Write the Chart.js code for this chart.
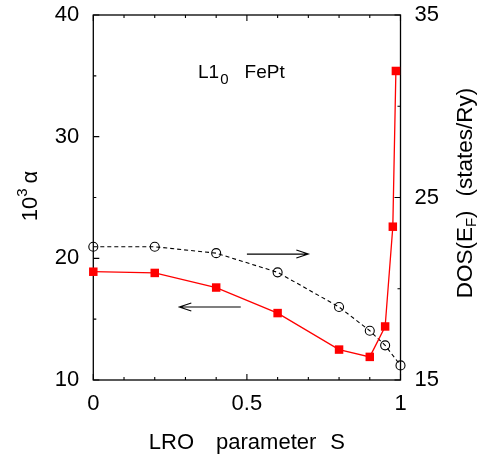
<!DOCTYPE html>
<html>
<head>
<meta charset="utf-8">
<script src="https://cdn.jsdelivr.net/npm/chart.js@4.4.1/dist/chart.umd.min.js"></script>
<style>
html,body{margin:0;padding:0;background:#fff;}
#wrap{width:478px;height:457px;}
</style>
</head>
<body>
<div id="wrap"><canvas id="c" width="478" height="457"></canvas></div>
<script>
// ---- data ----
const S_alpha = [0, 0.2, 0.4, 0.6, 0.8, 0.9, 0.95, 0.975, 0.985];
const alpha   = [18.9, 18.8, 17.6, 15.5, 12.5, 11.9, 14.4, 22.6, 35.4];
const S_dos   = [0, 0.2, 0.4, 0.6, 0.8, 0.9, 0.95, 1.0];
const dos     = [22.3, 22.3, 21.95, 20.9, 19.0, 17.7, 16.9, 15.8];

const xTickLabels   = [0, 0.5, 1];
const xMinorTicks   = [0.1, 0.2, 0.3, 0.4, 0.6, 0.7, 0.8, 0.9];
const yLeftTicks    = [10, 20, 30, 40];
const yLeftMinor    = [15, 25, 35];
const yRightTicks   = [15, 25, 35];
const yRightMinor   = [20, 30];

// arrows: [xStart, xEnd, yValue]
const arrowRight = [0.5, 0.7, 21.9];   // points to right axis (DOS)
const arrowLeft  = [0.48, 0.28, 16.0]; // points to left axis (alpha)
const insetPos   = [0.341, 34.8];      // "L1_0 FePt" label position (x, alpha)

const FONT = '"Liberation Sans", Arial, Helvetica, sans-serif';

// draw a sequence of [text, fontSize, dy, gapAfter] pieces starting at x
function drawPieces(ctx, pieces, x, y) {
  pieces.forEach(([t, fs, dy, gap]) => {
    ctx.font = fs + 'px ' + FONT;
    ctx.fillText(t, x, y + dy);
    x += ctx.measureText(t).width + (gap || 0);
  });
}
function piecesWidth(ctx, pieces) {
  let w = 0;
  pieces.forEach(([t, fs, dy, gap], i) => {
    ctx.font = fs + 'px ' + FONT;
    w += ctx.measureText(t).width + (i < pieces.length - 1 ? (gap || 0) : 0);
  });
  return w;
}

const framePlugin = {
  id: 'frame',
  beforeDatasetsDraw(chart) {
    const {ctx, chartArea: a, scales} = chart;
    ctx.save();
    ctx.strokeStyle = '#000';
    ctx.lineWidth = 1.3;
    ctx.strokeRect(a.left, a.top, a.right - a.left, a.bottom - a.top);
    ctx.lineWidth = 1.1;
    const MAJ = 6, MIN = 3;
    ctx.beginPath();
    const xs = scales.x, yl = scales.y, yr = scales.y1;
    xTickLabels.concat(xMinorTicks).forEach(v => {
      const L = xTickLabels.includes(v) ? MAJ : MIN;
      const px = xs.getPixelForValue(v);
      ctx.moveTo(px, a.bottom); ctx.lineTo(px, a.bottom - L);
      ctx.moveTo(px, a.top); ctx.lineTo(px, a.top + L);
    });
    yLeftTicks.concat(yLeftMinor).forEach(v => {
      const L = yLeftTicks.includes(v) ? MAJ : MIN;
      const py = yl.getPixelForValue(v);
      ctx.moveTo(a.left, py); ctx.lineTo(a.left + L, py);
    });
    yRightTicks.concat(yRightMinor).forEach(v => {
      const L = yRightTicks.includes(v) ? MAJ : MIN;
      const py = yr.getPixelForValue(v);
      ctx.moveTo(a.right, py); ctx.lineTo(a.right - L, py);
    });
    ctx.stroke();
    ctx.restore();
  },
  afterDraw(chart) {
    const {ctx, chartArea: a, scales} = chart;
    const xs = scales.x, yl = scales.y, yr = scales.y1;
    ctx.save();
    ctx.fillStyle = '#000';
    ctx.strokeStyle = '#000';
    ctx.lineWidth = 1.1;

    // arrows
    function arrow(x0, x1, py) {
      const p0 = xs.getPixelForValue(x0), p1 = xs.getPixelForValue(x1);
      const dir = Math.sign(p1 - p0);
      ctx.beginPath();
      ctx.moveTo(p0, py); ctx.lineTo(p1, py);
      ctx.moveTo(p1 - dir * 12, py - 4); ctx.lineTo(p1, py); ctx.lineTo(p1 - dir * 12, py + 4);
      ctx.stroke();
    }
    arrow(arrowRight[0], arrowRight[1], yr.getPixelForValue(arrowRight[2]));
    arrow(arrowLeft[0], arrowLeft[1], yl.getPixelForValue(arrowLeft[2]));

    ctx.textBaseline = 'alphabetic';
    ctx.textAlign = 'left';

    // inset label L1_0 FePt
    drawPieces(ctx, [['L1', 19, 0, 1], ['0', 15, 6, 16], ['FePt', 19, 0, 0]],
      xs.getPixelForValue(insetPos[0]), yl.getPixelForValue(insetPos[1]));

    // x-axis title
    const xt = [['LRO', 22, 0, 22], ['parameter', 22, 0, 14], ['S', 22, 0, 0]];
    drawPieces(ctx, xt, (a.left + a.right) / 2 - piecesWidth(ctx, xt) / 2, 449);

    // left title: 10^3 alpha (rotated)
    ctx.save();
    ctx.translate(37, 196);
    ctx.rotate(-Math.PI / 2);
    const lt = [['10', 22, 0, 0], ['3', 15, -10, 5], ['\u03B1', 22, 0, 0]];
    drawPieces(ctx, lt, -piecesWidth(ctx, lt) / 2, 0);
    ctx.restore();

    // right title: DOS(E_F)  (states/Ry)
    ctx.save();
    ctx.translate(472, 193);
    ctx.rotate(-Math.PI / 2);
    const rt = [['DOS(E', 22.5, 0, 0], ['F', 15, 4, 0], [')', 22.5, 0, 14], ['(states/Ry)', 22.5, 0, 0]];
    drawPieces(ctx, rt, -piecesWidth(ctx, rt) / 2, 0);
    ctx.restore();

    ctx.restore();
  }
};

const tickFont = {family: FONT, size: 22};
function zeroPad(s) { s.paddingTop = 0; s.paddingBottom = 0; s.paddingLeft = 0; s.paddingRight = 0; }

new Chart(document.getElementById('c'), {
  type: 'scatter',
  data: {
    datasets: [
      {
        label: '10^3 alpha',
        data: S_alpha.map((s, i) => ({x: s, y: alpha[i]})),
        yAxisID: 'y',
        showLine: true,
        borderColor: '#ff0000',
        borderWidth: 1.3,
        pointStyle: 'rect',
        pointRadius: 6,
        pointBackgroundColor: '#ff0000',
        pointBorderColor: '#ff0000',
        pointBorderWidth: 0,
        clip: false,
        order: 1
      },
      {
        label: 'DOS(E_F)',
        data: S_dos.map((s, i) => ({x: s, y: dos[i]})),
        yAxisID: 'y1',
        showLine: true,
        borderColor: '#000',
        borderWidth: 1.1,
        borderDash: [4, 3],
        pointStyle: 'circle',
        pointRadius: 4.5,
        pointBackgroundColor: 'rgba(0,0,0,0)',
        pointBorderColor: '#000',
        pointBorderWidth: 1.1,
        clip: false,
        order: 2
      }
    ]
  },
  options: {
    responsive: false,
    animation: false,
    devicePixelRatio: 1,
    layout: {padding: {top: 15, left: 0, right: 0, bottom: 0}},
    plugins: {legend: {display: false}, tooltip: {enabled: false}},
    scales: {
      x: {
        type: 'linear', position: 'bottom', min: 0, max: 1,
        grid: {display: false, drawTicks: false},
        border: {display: false},
        afterBuildTicks: s => { s.ticks = xTickLabels.map(v => ({value: v})); },
        afterFit: s => { s.height = 77; zeroPad(s); },
        ticks: {font: tickFont, color: '#000', padding: 11, maxRotation: 0,
                callback: v => String(v)}
      },
      y: {
        type: 'linear', position: 'left', min: 10, max: 40,
        grid: {display: false, drawTicks: false},
        border: {display: false},
        afterBuildTicks: s => { s.ticks = yLeftTicks.map(v => ({value: v})); },
        afterFit: s => { s.width = 93.3; zeroPad(s); },
        ticks: {font: tickFont, color: '#000', padding: 14, callback: v => String(v)}
      },
      y1: {
        type: 'linear', position: 'right', min: 15, max: 35,
        grid: {display: false, drawTicks: false},
        border: {display: false},
        afterBuildTicks: s => { s.ticks = yRightTicks.map(v => ({value: v})); },
        afterFit: s => { s.width = 77.5; zeroPad(s); },
        ticks: {font: tickFont, color: '#000', padding: 14, callback: v => String(v)}
      }
    }
  },
  plugins: [framePlugin]
});
</script>
</body>
</html>
